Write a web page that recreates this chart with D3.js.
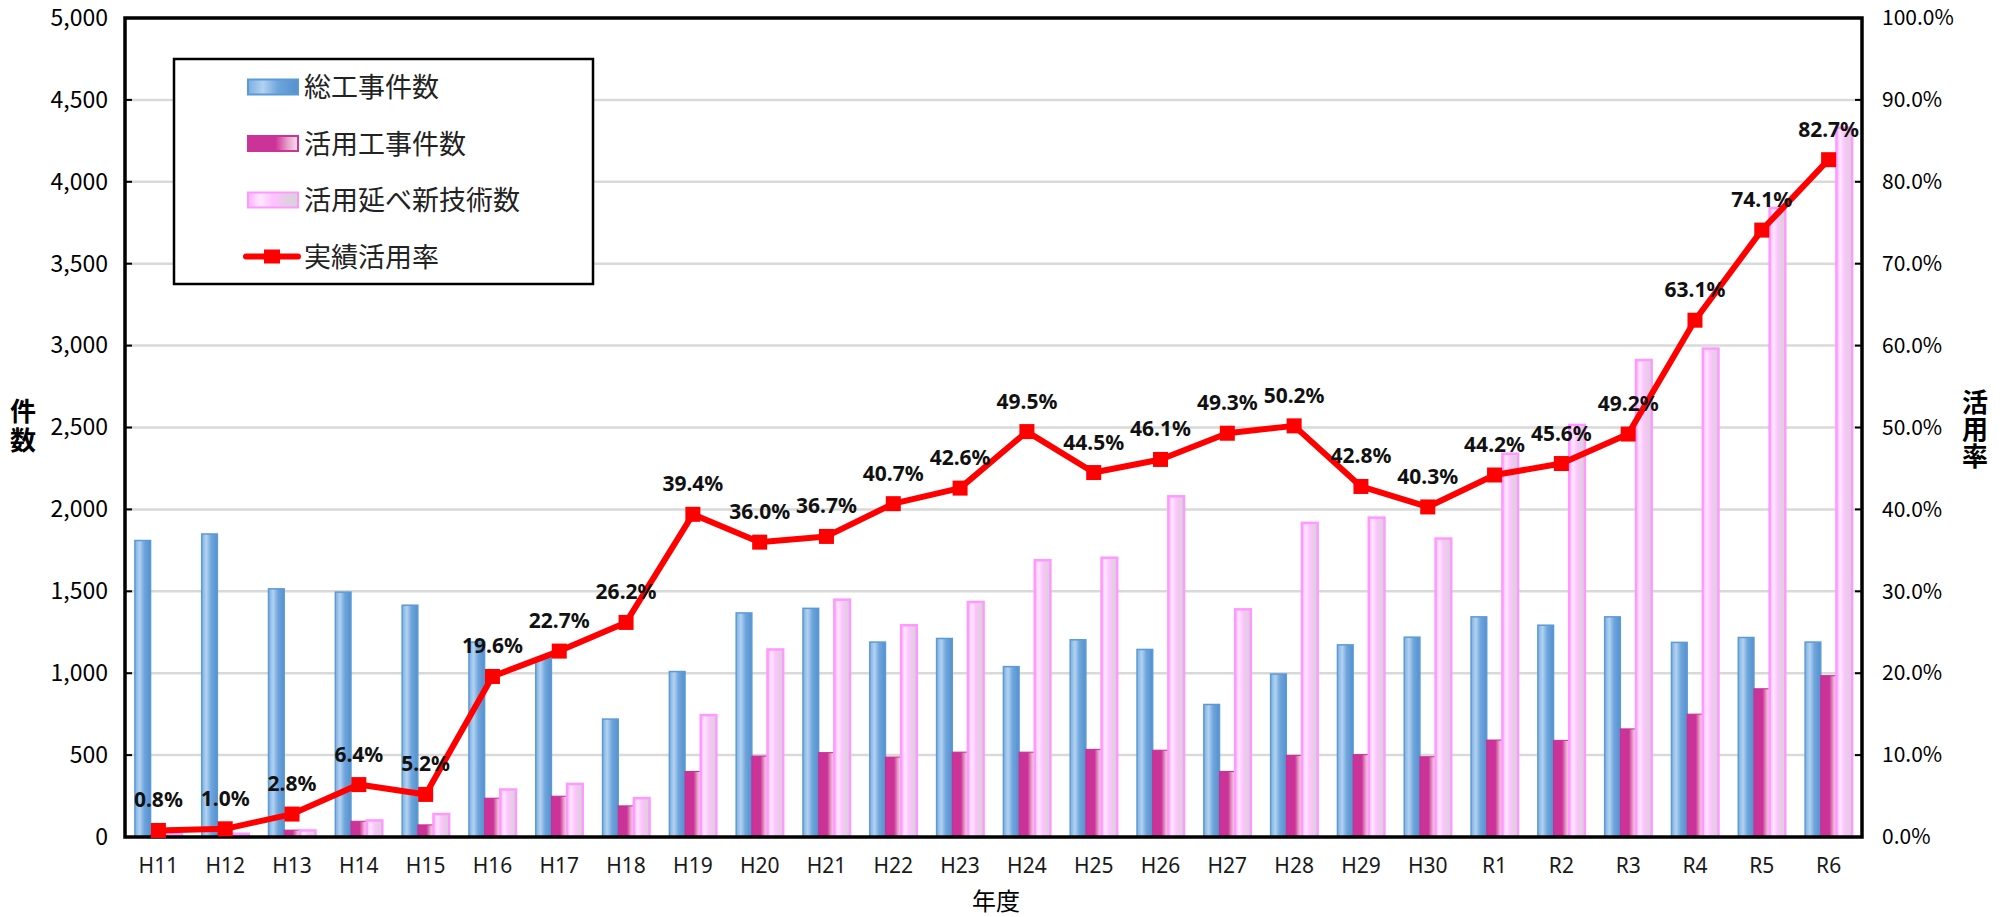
<!DOCTYPE html>
<html>
<head>
<meta charset="utf-8">
<script src="https://cdn.jsdelivr.net/npm/d3@7"></script>
<style>
  body { margin: 0; background: #fff; }
  svg { display: block; }
</style>
</head>
<body>
<script>
var years = ["H11", "H12", "H13", "H14", "H15", "H16", "H17", "H18", "H19", "H20", "H21", "H22", "H23",
    "H24", "H25", "H26", "H27", "H28", "H29", "H30", "R1", "R2", "R3", "R4", "R5", "R6"];
var totalWorks = [1810, 1850, 1515, 1495, 1415, 1190, 1095, 720, 1010, 1368, 1396, 1190, 1212,
    1040, 1204, 1145, 809, 995, 1173, 1220, 1344, 1293, 1344, 1188, 1218, 1190];
var usedWorks = [14, 18, 42, 96, 74, 237, 249, 190, 400, 494, 515, 488, 518,
    518, 535, 530, 400, 498, 503, 490, 592, 590, 660, 750, 905, 985];
var newTechs = [20, 20, 40, 101, 140, 290, 324, 237, 744, 1145, 1449, 1293, 1435,
    1690, 1705, 2080, 1390, 1918, 1950, 1822, 2340, 2516, 2912, 2982, 3840, 4330];
var rates = [0.8, 1.0, 2.8, 6.4, 5.2, 19.6, 22.7, 26.2, 39.4, 36.0, 36.7, 40.7, 42.6,
    49.5, 44.5, 46.1, 49.3, 50.2, 42.8, 40.3, 44.2, 45.6, 49.2, 63.1, 74.1, 82.7];
var countTicks = [0, 500, 1000, 1500, 2000, 2500, 3000, 3500, 4000, 4500, 5000];
var rateTicks = [0, 10, 20, 30, 40, 50, 60, 70, 80, 90, 100];
var seriesNames = ["総工事件数", "活用工事件数", "活用延べ新技術数", "実績活用率"];

var width = 2004, height = 917;
var pL = 125, pR = 1862, pT = 18, pB = 837;

var svg = d3.select("body").append("svg")
    .attr("width", width)
    .attr("height", height);

// gradients for the bar fills
var defs = svg.append("defs");
function grad(id, stops) {
    var g = defs.append("linearGradient").attr("id", id)
        .attr("x1", 0).attr("x2", 1).attr("y1", 0).attr("y2", 0);
    stops.forEach(function (s) {
        g.append("stop").attr("offset", s[0]).attr("stop-color", s[1]);
    });
}
grad("gBlue", [[0, "#7cafe1"], [0.3, "#b3d2f1"], [0.6, "#6ea5dc"], [1, "#5591cf"]]);
grad("gMag", [[0, "#cc3399"], [0.55, "#cc3399"], [0.8, "#e8a3ca"], [1, "#f6e2ee"]]);
grad("gPink", [[0, "#ffb3ff"], [0.25, "#ffe8ff"], [0.5, "#ffc2ff"], [0.72, "#e8cce8"], [1, "#d4d4d4"]]);

var x = d3.scaleBand().domain(years).range([pL, pR]).padding(0);
var groupW = 47;
var xs = d3.scaleBand().domain([0, 1, 2]).range([0, groupW]).padding(0);
var y = d3.scaleLinear().domain([0, 5000]).range([pB, pT]);
var yr = d3.scaleLinear().domain([0, 100]).range([pB, pT]);

// gridlines
svg.append("g")
    .selectAll("line")
    .data(countTicks.slice(1))
    .enter().append("line")
    .attr("x1", pL).attr("x2", pR)
    .attr("y1", function (d) { return y(d); })
    .attr("y2", function (d) { return y(d); })
    .style("stroke", "#d9d9d9")
    .style("stroke-width", 2.5);

// bars
var series = [
    { values: totalWorks, fill: "url(#gBlue)", stroke: "#5b9bd5", sw: 1.5 },
    { values: usedWorks, fill: "url(#gMag)", stroke: "#c52f92", sw: 1 },
    { values: newTechs, fill: "url(#gPink)", stroke: "#ff99ff", sw: 2.5 }
];
var bars = svg.append("g");
series.forEach(function (s, si) {
    bars.append("g")
        .selectAll("rect")
        .data(s.values)
        .enter().append("rect")
        .attr("x", function (d, i) { return x(years[i]) + x.bandwidth() / 2 - groupW / 2 + xs(si); })
        .attr("y", function (d) { return y(d); })
        .attr("width", xs.bandwidth())
        .attr("height", function (d) { return pB - y(d); })
        .style("fill", s.fill)
        .style("stroke", s.stroke)
        .style("stroke-width", s.sw);
});

// frame + axes
svg.append("rect")
    .attr("x", pL).attr("y", pT)
    .attr("width", pR - pL).attr("height", pB - pT)
    .style("fill", "none")
    .style("stroke", "#000")
    .style("stroke-width", 3.5);

var yAxisL = d3.axisLeft(y).tickValues(countTicks).tickSize(0).tickPadding(17)
    .tickFormat(d3.format(","));
svg.append("g")
    .attr("transform", "translate(" + pL + ",0)")
    .call(yAxisL)
    .call(function (g) { g.select(".domain").remove(); })
    .selectAll("text")
    .style("font-family", "'Noto Sans CJK JP', sans-serif")
    .style("font-size", "23px")
    .style("fill", "#000");

var yAxisR = d3.axisRight(yr).tickValues(rateTicks).tickSize(0).tickPadding(20)
    .tickFormat(function (d) { return d.toFixed(1) + "%"; });
svg.append("g")
    .attr("transform", "translate(" + pR + ",0)")
    .call(yAxisR)
    .call(function (g) { g.select(".domain").remove(); })
    .selectAll("text")
    .style("font-family", "'Noto Sans CJK JP', sans-serif")
    .style("font-size", "21px")
    .style("fill", "#000");

// inward tick marks
svg.append("g").selectAll("line").data(countTicks).enter().append("line")
    .attr("x1", pL).attr("x2", pL + 7)
    .attr("y1", function (d) { return y(d); }).attr("y2", function (d) { return y(d); })
    .style("stroke", "#000").style("stroke-width", 2);
svg.append("g").selectAll("line").data(rateTicks).enter().append("line")
    .attr("x1", pR - 7).attr("x2", pR)
    .attr("y1", function (d) { return yr(d); }).attr("y2", function (d) { return yr(d); })
    .style("stroke", "#000").style("stroke-width", 2);

var xAxis = d3.axisBottom(x).tickSize(0).tickPadding(21);
svg.append("g")
    .attr("transform", "translate(0," + pB + ")")
    .call(xAxis)
    .call(function (g) { g.select(".domain").remove(); })
    .selectAll("text")
    .style("font-family", "'Noto Sans', sans-serif")
    .style("font-size", "21px")
    .style("fill", "#1a1a1a");

// rate line
var cx = function (d, i) { return x(years[i]) + x.bandwidth() / 2; };
var line = d3.line()
    .x(cx)
    .y(function (d) { return yr(d); });

svg.append("path")
    .datum(rates)
    .attr("d", line)
    .style("fill", "none")
    .style("stroke", "#ff0000")
    .style("stroke-width", 6)
    .style("stroke-linejoin", "round");

svg.append("g")
    .selectAll("rect")
    .data(rates)
    .enter().append("rect")
    .attr("x", function (d, i) { return cx(d, i) - 7.5; })
    .attr("y", function (d) { return yr(d) - 7.5; })
    .attr("width", 15).attr("height", 15)
    .style("fill", "#ff0000");

svg.append("g")
    .selectAll("text")
    .data(rates)
    .enter().append("text")
    .attr("x", cx)
    .attr("y", function (d) { return yr(d) - 23; })
    .attr("text-anchor", "middle")
    .style("font-family", "'Noto Sans', sans-serif")
    .style("font-weight", "bold")
    .style("font-size", "21px")
    .style("fill", "#111")
    .text(function (d) { return d.toFixed(1) + "%"; });

// axis titles (vertical text)
svg.append("text")
    .attr("x", 23).attr("y", 398)
    .attr("writing-mode", "tb")
    .style("text-orientation", "upright")
    .style("letter-spacing", "3px")
    .style("font-family", "'Noto Sans CJK JP', sans-serif")
    .style("font-weight", "bold").style("font-size", "26px")
    .text("件数");

svg.append("text")
    .attr("x", 1975).attr("y", 389)
    .attr("writing-mode", "tb")
    .style("text-orientation", "upright")
    .style("letter-spacing", "1px")
    .style("font-family", "'Noto Sans CJK JP', sans-serif")
    .style("font-weight", "bold").style("font-size", "26px")
    .text("活用率");

svg.append("text")
    .attr("x", 996).attr("y", 910)
    .attr("text-anchor", "middle")
    .style("font-family", "'Noto Sans CJK JP', sans-serif")
    .style("font-size", "24px")
    .text("年度");

// legend
var legend = svg.append("g");
legend.append("rect")
    .attr("x", 174).attr("y", 59).attr("width", 419).attr("height", 225)
    .style("fill", "#fff").style("stroke", "#000").style("stroke-width", 2.5);

var legendFills = ["url(#gBlue)", "url(#gMag)", "url(#gPink)"];
var legendStrokes = ["#5b9bd5", "#cc3399", "#ff99ff"];
var items = legend.selectAll("g.item")
    .data(seriesNames)
    .enter().append("g")
    .attr("class", "item")
    .attr("transform", function (d, i) { return "translate(0," + (87 + i * 56.5) + ")"; });

items.filter(function (d, i) { return i < 3; })
    .append("rect")
    .attr("x", 248).attr("y", -7.5).attr("width", 50).attr("height", 15)
    .style("fill", function (d, i) { return legendFills[i]; })
    .style("stroke", function (d, i) { return legendStrokes[i]; })
    .style("stroke-width", 2);

var lineItem = items.filter(function (d, i) { return i === 3; });
lineItem.append("line")
    .attr("x1", 246).attr("x2", 298).attr("y1", 0).attr("y2", 0)
    .style("stroke", "#ff0000").style("stroke-width", 6).style("stroke-linecap", "round");
lineItem.append("rect")
    .attr("x", 264).attr("y", -7).attr("width", 16).attr("height", 14)
    .style("fill", "#ff0000");

items.append("text")
    .attr("x", 304).attr("y", 10)
    .style("font-family", "'Noto Sans CJK JP', sans-serif")
    .style("font-size", "27px")
    .style("fill", "#222")
    .text(function (d) { return d; });
</script>
</body>
</html>
